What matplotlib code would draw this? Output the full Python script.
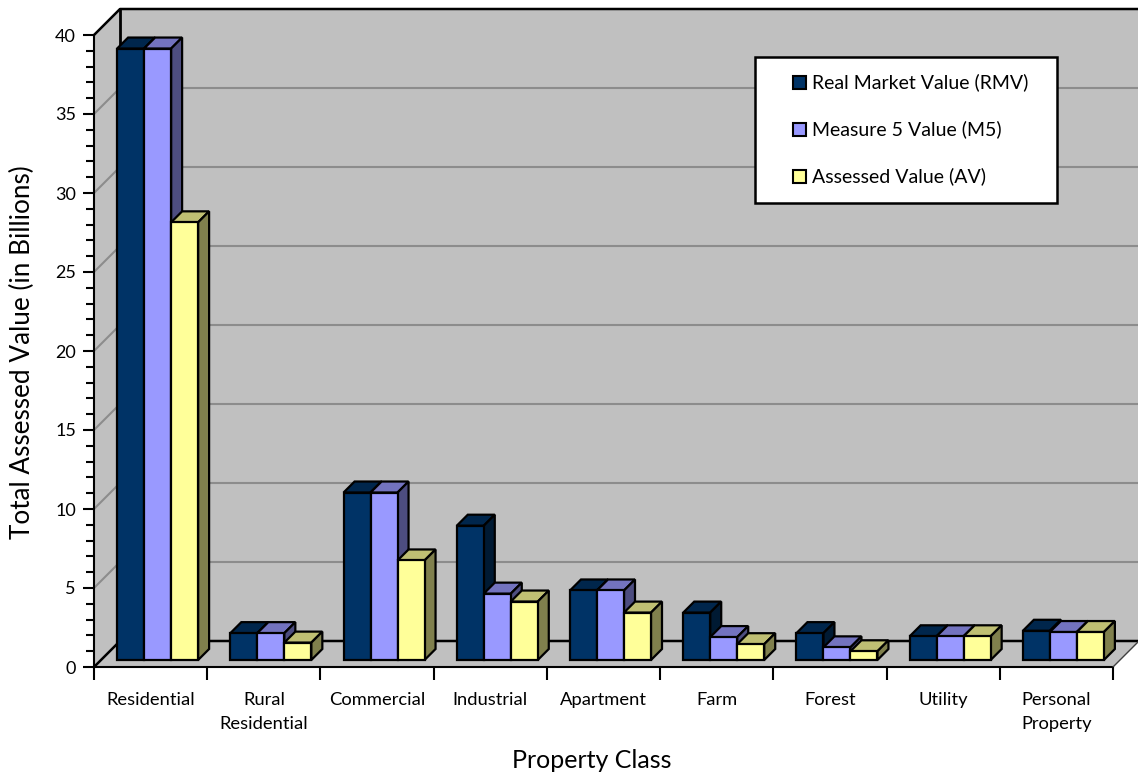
import matplotlib
matplotlib.use("Agg")
import matplotlib.pyplot as plt
from matplotlib.patches import Polygon, Rectangle
from matplotlib.transforms import ScaledTranslation
import numpy as np

plt.rcParams['font.family'] = ['Lato', 'DejaVu Sans']

categories = ["Residential", "Rural\nResidential", "Commercial", "Industrial",
              "Apartment", "Farm", "Forest", "Utility", "Personal\nProperty"]
series_names = ["Real Market Value (RMV)", "Measure 5 Value (M5)", "Assessed Value (AV)"]
rmv = [38.7, 1.7, 10.6, 8.5, 4.4, 3.0, 1.7, 1.5, 1.85]
m5 = [38.7, 1.7, 10.6, 4.2, 4.4, 1.45, 0.8, 1.5, 1.77]
av = [27.7, 1.1, 6.3, 3.7, 3.0, 1.0, 0.55, 1.5, 1.77]
yticks = [0, 5, 10, 15, 20, 25, 30, 35, 40]

front_cols = ["#003366", "#9999FF", "#FFFF99"]
top_cols = ["#00264C", "#7373BF", "#BFBF73"]
side_cols = ["#001A33", "#4D4D80", "#80804D"]

W, H, DPI = 1138, 779, 100
fig = plt.figure(figsize=(W / DPI, H / DPI), dpi=DPI)
fig.patch.set_facecolor("white")

x0p, x1p, y0p, y1p = 94, 1113, 667, 35
ax = fig.add_axes([x0p / W, (H - y0p) / H, (x1p - x0p) / W, (y0p - y1p) / H])
ax.set_xlim(0, 9)
ax.set_ylim(0, 40)
ax.patch.set_visible(False)

xpx = (x1p - x0p) / 9.0
ypx = (y0p - y1p) / 40.0


def off(px):
    return px / xpx, px / ypx


# walls / floor
Dx, Dy = off(26)
wall_kw = dict(facecolor="#C0C0C0", edgecolor="none", clip_on=False, zorder=0)
ax.add_patch(Polygon([(Dx, Dy), (9 + Dx, Dy), (9 + Dx, 40 + Dy), (Dx, 40 + Dy)], **wall_kw))
ax.add_patch(Polygon([(0, 0), (Dx, Dy), (Dx, 40 + Dy), (0, 40)], **wall_kw))
ax.add_patch(Polygon([(0, 0), (9, 0), (9 + Dx, Dy), (Dx, Dy)], **wall_kw))

for v in yticks[1:-1]:
    ax.plot([0, Dx, 9 + Dx], [v, v + Dy, v + Dy], color="#8C8C8C", lw=1.5,
            clip_on=False, zorder=1)
ax.plot([0, Dx, 9 + Dx], [0, Dy, Dy], color="black", lw=1.8, clip_on=False, zorder=1)
ax.plot([0, Dx, 9 + Dx], [40, 40 + Dy, 40 + Dy], color="black", lw=1.8, clip_on=False, zorder=1)
ax.plot([Dx, Dx], [Dy, 40 + Dy], color="black", lw=2.0, clip_on=False, zorder=1)
ax.plot([0, 9], [0, 0], color="black", lw=1.5, clip_on=False, zorder=1)
ax.plot([9, 9 + Dx], [0, Dy], color="#404040", lw=1.0, clip_on=False, zorder=1)

# bars
fshift = ScaledTranslation(7 / DPI, 7 / DPI, fig.dpi_scale_trans)
btrans = ax.transData + fshift
w = 27 / xpx
dx, dy = off(11)
series = [rmv, m5, av]
z = 2
for i in range(len(categories)):
    for k, vals in enumerate(series):
        v = vals[i]
        xl = i + 0.5 + (k - 1.5) * w
        ax.bar(xl, v, width=w, align="edge", color=front_cols[k], edgecolor="black",
               linewidth=1.6, transform=btrans, zorder=z + 0.5, clip_on=False)
        ax.add_patch(Polygon([(xl, v), (xl + w, v), (xl + w + dx, v + dy), (xl + dx, v + dy)],
                             facecolor=top_cols[k], edgecolor="black", lw=1.6,
                             transform=btrans, zorder=z, clip_on=False, joinstyle="miter"))
        ax.add_patch(Polygon([(xl + w, 0), (xl + w + dx, dy), (xl + w + dx, v + dy), (xl + w, v)],
                             facecolor=side_cols[k], edgecolor="black", lw=1.6,
                             transform=btrans, zorder=z, clip_on=False, joinstyle="miter"))
        z += 1

# axes styling
for s in ["top", "right", "bottom"]:
    ax.spines[s].set_visible(False)
ax.spines["left"].set_linewidth(1.5)
ax.spines["left"].set_zorder(200)
ax.set_yticks(yticks)
ax.set_yticks(np.arange(0, 41, 1), minor=True)
ax.tick_params(axis="y", which="major", length=8, width=1.5, pad=5, labelsize=13,
               direction="out")
ax.tick_params(axis="y", which="minor", length=5.5, width=1.5, direction="out")
ax.set_xticks(np.arange(0, 10, 1))
ax.set_xticklabels([])
ax.set_xticks(np.arange(0.5, 9, 1), minor=True)
ax.set_xticklabels(categories, minor=True, fontsize=13.2, linespacing=1.62)
ax.tick_params(axis="x", which="major", length=9.5, width=1.5, direction="out")
ax.tick_params(axis="x", which="minor", length=0, pad=18)

fig.text(22 / W, 1 - 352 / H, "Total Assessed Value (in Billions)", rotation=90,
         ha="center", va="center", fontsize=18.8)
fig.text(592 / W, 1 - 761 / H, "Property Class", ha="center", va="center", fontsize=18)

# legend box
fig.patches.append(Rectangle((755 / W, 1 - 203 / H), (1057 - 755) / W, (203 - 57) / H,
                             transform=fig.transFigure, facecolor="white", edgecolor="black",
                             lw=1.8, zorder=300))
rows = [82, 129, 176]
for k in range(3):
    fig.patches.append(Rectangle((793 / W, 1 - (rows[k] + 6.5) / H), 13 / W, 13 / H,
                                 transform=fig.transFigure, facecolor=front_cols[k],
                                 edgecolor="black", lw=1.5, zorder=301))
    fig.text(812 / W, 1 - rows[k] / H, series_names[k], ha="left", va="center",
             fontsize=14, zorder=302)

fig.savefig("out.png", dpi=DPI)
